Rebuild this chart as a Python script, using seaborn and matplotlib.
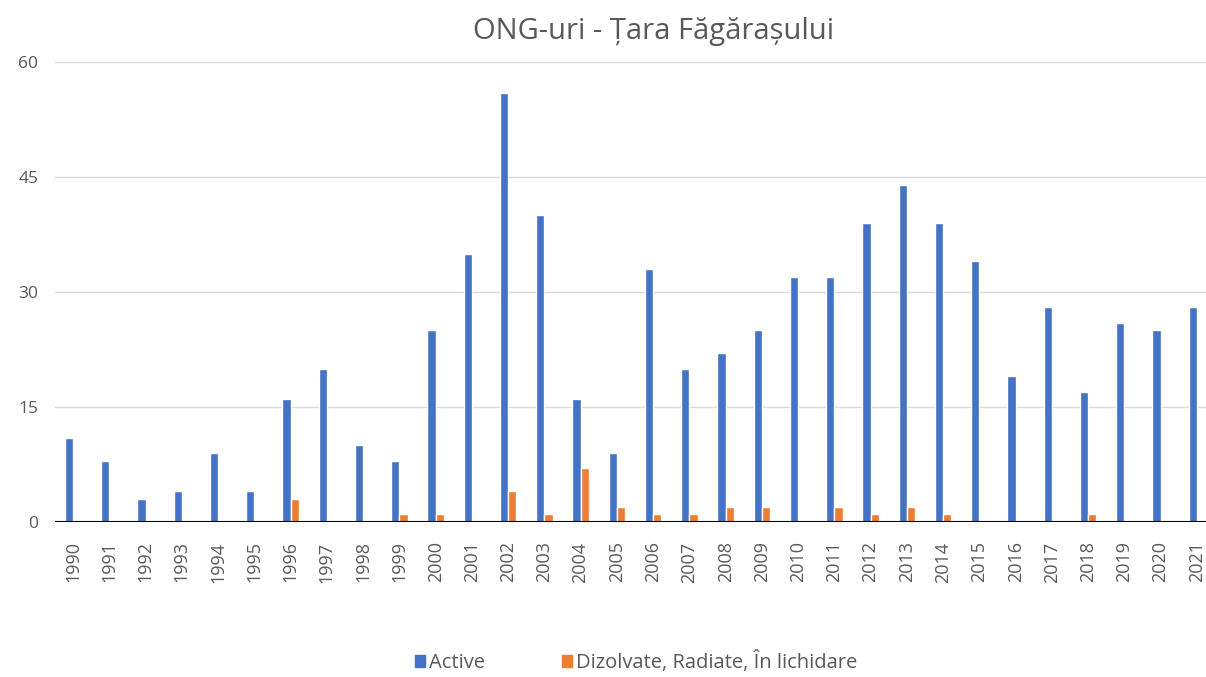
import pandas as pd
import matplotlib.pyplot as plt
import seaborn as sns

# Date: ONG-uri active si dizolvate pe ani
ani = [str(a) for a in range(1990, 2022)]
active = [11, 8, 3, 4, 9, 4, 16, 20, 10, 8, 25, 35, 56, 40, 16, 9,
          33, 20, 22, 25, 32, 32, 39, 44, 39, 34, 19, 28, 17, 26, 25, 28]
dizolvate = [0, 0, 0, 0, 0, 0, 3, 0, 0, 1, 1, 0, 4, 1, 7, 2,
             1, 1, 2, 2, 0, 2, 1, 2, 1, 0, 0, 0, 1, 0, 0, 0]
serii = ['Active', 'Dizolvate, Radiate, În lichidare']

df = pd.DataFrame({'An': ani * 2,
                   'Numar': active + dizolvate,
                   'Tip': [serii[0]] * len(ani) + [serii[1]] * len(ani)})

sns.set_style('white')
plt.rcParams['font.family'] = ['Open Sans', 'DejaVu Sans']

fig = plt.figure(figsize=(12.06, 6.77), dpi=100)
ax = fig.add_axes([55 / 1206, 155 / 677, 1160 / 1206, 460 / 677])

sns.barplot(data=df, x='An', y='Numar', hue='Tip', ax=ax,
            palette=['#4472C4', '#ED7D31'], width=0.46, gap=0,
            saturation=1, legend=False)

ax.set_ylim(0, 60)
ax.set_xlim(-0.5, len(ani) - 0.5)
ax.set_yticks([0, 15, 30, 45, 60])
ax.grid(axis='y', color='#D9D9D9', linewidth=1)
ax.set_axisbelow(True)
ax.axhline(0, color='black', linewidth=1.5, zorder=5)
for s in ax.spines.values():
    s.set_visible(False)

# etichete axe
ax.tick_params(axis='x', rotation=90, labelsize=13, colors='#595959', length=0, pad=14)
ax.tick_params(axis='y', labelsize=12.5, colors='#595959', length=0, pad=12)
ax.set_xlabel('')
ax.set_ylabel('')

fig.text(654 / 1206, 1 - 32 / 677, 'ONG-uri - Țara Făgărașului', ha='center', va='center',
         fontsize=21, color='#595959')

# legenda jos
handles = [plt.Rectangle((0, 0), 1, 1, color=c) for c in ['#4472C4', '#ED7D31']]
fig.legend(handles, serii, loc='center', bbox_to_anchor=(636 / 1206, 1 - 662 / 677),
           ncol=2, frameon=False, fontsize=14.5, labelcolor='#595959',
           handlelength=0.5, handleheight=0.5, handletextpad=0.2, columnspacing=3.8)

fig.savefig('out.png', dpi=100)
